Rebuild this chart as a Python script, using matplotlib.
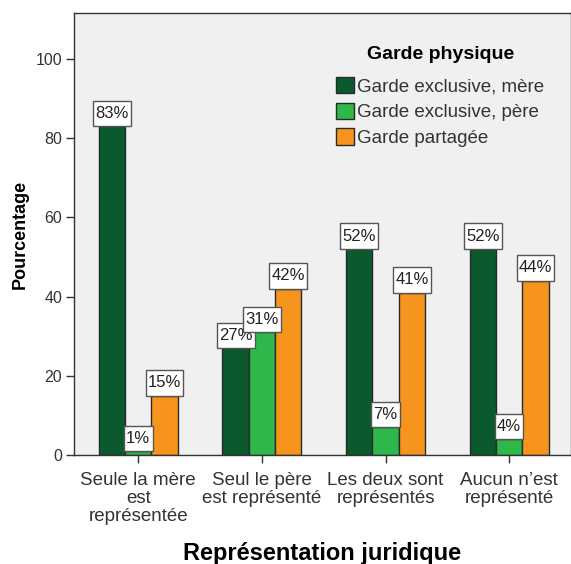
import matplotlib.pyplot as plt
from matplotlib.path import Path
import numpy as np

plt.rcParams['font.family'] = ['Liberation Sans', 'DejaVu Sans']

categories = ["Seule la mère\nest\nreprésentée", "Seul le père\nest représenté",
              "Les deux sont\nreprésentés", "Aucun n\u2019est\nreprésenté"]
series_names = ["Garde exclusive, mère", "Garde exclusive, père", "Garde partagée"]
mere = [83, 27, 52, 52]
pere = [1, 31, 7, 4]
partagee = [15, 42, 41, 44]
colors = ["#0b5a2d", "#2eb84b", "#f7941d"]

PADX = 0.13
PADY = 0.32


def label_box(x0, y0, width, height, mutation_size):
    # rectangle box with more room above/below than on the sides
    px = PADX * mutation_size
    py = PADY * mutation_size
    x1, y1 = x0 - px, y0 - py
    x2, y2 = x0 + width + px, y0 + height + py
    return Path([(x1, y1), (x2, y1), (x2, y2), (x1, y2), (x1, y1)],
                [Path.MOVETO, Path.LINETO, Path.LINETO, Path.LINETO, Path.CLOSEPOLY])


def main():
    fig = plt.figure(figsize=(5.71, 5.64), dpi=100)
    ax = fig.add_axes([0.1296, 0.193, 0.8704, 0.784])
    ax.set_facecolor("#f0f0f0")

    x = np.arange(len(categories))
    w = 0.213
    fs_val = 12
    for i, (vals, name, c) in enumerate(zip([mere, pere, partagee], series_names, colors)):
        pos = x + (i - 1) * w
        ax.bar(pos, vals, w, color=c, edgecolor="#2a2a2a", linewidth=1, label=name, zorder=2)
        for px, v in zip(pos, vals):
            ax.annotate(f"{v}%", (px, v), xytext=(0, PADY * fs_val), textcoords="offset points",
                        ha="center", va="bottom", fontsize=fs_val, color="#222222",
                        bbox=dict(boxstyle=label_box, fc="white", ec="#555555", lw=1),
                        zorder=5)

    ax.set_xlim(-0.52, 3.5)
    ax.set_ylim(0, 111.6)
    ax.set_yticks([0, 20, 40, 60, 80, 100])
    ax.set_xticks(x)
    ax.set_xticklabels(categories, fontsize=13.5, color="#333333", linespacing=1.1)
    ax.tick_params(axis="y", labelsize=11.5, labelcolor="#333333", length=6, width=1,
                   color="#333333", pad=2.5)
    ax.tick_params(axis="x", length=6, width=1, color="#333333", pad=6)
    for s in ax.spines.values():
        s.set_color("#333333")
        s.set_linewidth(1)

    ax.set_ylabel("Pourcentage", fontsize=13, fontweight="bold", labelpad=5)
    ax.set_xlabel("Représentation juridique", fontsize=17, fontweight="bold", labelpad=12)

    leg = ax.legend(loc="upper left", bbox_to_anchor=(0.527, 0.925), frameon=False,
                    fontsize=13.5, title="Garde physique", handlelength=0.95, handleheight=0.95,
                    handletextpad=0.2, labelspacing=0.38, borderaxespad=0, borderpad=0)
    leg.get_title().set_fontweight("bold")
    leg.get_title().set_fontsize(14)
    leg._legend_box.sep = 10
    for t in leg.get_texts():
        t.set_color("#333333")

    fig.savefig("out.png", dpi=100)


main()
